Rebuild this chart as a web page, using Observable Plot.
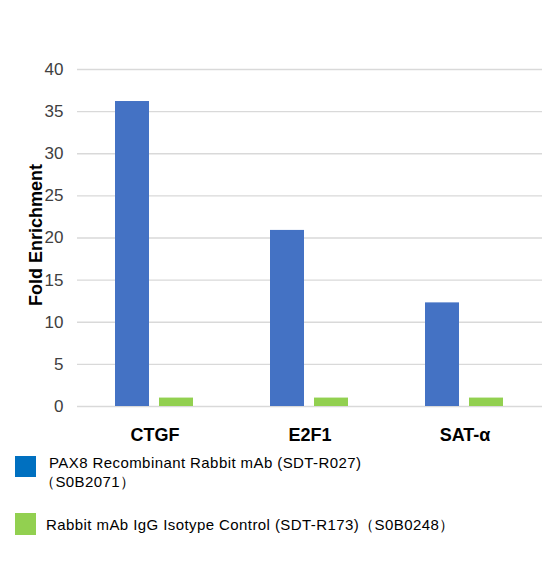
<!DOCTYPE html>
<html>
<head>
<meta charset="utf-8">
<script src="https://cdn.jsdelivr.net/npm/d3@7"></script>
<script src="https://cdn.jsdelivr.net/npm/@observablehq/plot@0.6"></script>
<style>
  body { margin: 0; background: #fff; font-family: "Liberation Sans", Arial, sans-serif; }
  #wrap { position: relative; width: 554px; height: 565px; }
  .sw { position: absolute; width: 21px; height: 21px; }
  .lt { position: absolute; font-size: 15px; line-height: 19px; color: #000; white-space: nowrap; letter-spacing: 0.42px; }
  #ylabel { position: absolute; left: 35.5px; top: 235px; font-size: 18px; line-height: 18px; font-weight: bold; color: #000;
            white-space: nowrap; transform: translate(-50%, -50%) rotate(-90deg); }
</style>
</head>
<body>
<div id="wrap">
  <div id="chart"></div>
  <div id="ylabel">Fold Enrichment</div>
  <div class="sw" style="left:15px; top:456px; background:#0070C0;"></div>
  <div class="lt" style="left:49px; top:453px;">PAX8 Recombinant Rabbit mAb (SDT-R027)</div>
  <div class="lt" style="left:40px; top:472px;">（S0B2071）</div>
  <div class="sw" style="left:15px; top:513px; height:22px; background:#92D050;"></div>
  <div class="lt" style="left:46px; top:515px;">Rabbit mAb IgG Isotype Control (SDT-R173)（S0B0248）</div>
</div>
<script>
const categories = ["CTGF", "E2F1", "SAT-α"];
const seriesNames = ["PAX8 Recombinant Rabbit mAb (SDT-R027)", "Rabbit mAb IgG Isotype Control (SDT-R173)"];
const pax8Values = [36.2, 20.9, 12.3];
const iggValues = [1.0, 1.0, 1.0];
const yTicks = [0, 5, 10, 15, 20, 25, 30, 35, 40];
const seriesColors = ["#4472C4", "#92D050"];

const data = [];
categories.forEach((c, i) => {
  data.push({category: c, series: seriesNames[0], value: pax8Values[i]});
  data.push({category: c, series: seriesNames[1], value: iggValues[i]});
});

const chart = Plot.plot({
  width: 554,
  height: 450,
  marginTop: 69,
  marginBottom: 44,
  marginLeft: 76,
  marginRight: 11,
  style: {fontFamily: "'Liberation Sans', Arial, sans-serif", background: "#fff"},
  fx: {domain: categories, padding: 0, label: null, axis: null},
  x: {domain: seriesNames, axis: null, paddingInner: 0.222, paddingOuter: 0.84},
  y: {domain: [0, 40], axis: null},
  color: {domain: seriesNames, range: seriesColors},
  marks: [
    Plot.gridY(yTicks, {stroke: "#d9d9d9", strokeOpacity: 1, strokeWidth: 1.3}),
    Plot.barY(data, {fx: "category", x: "series", y: "value", fill: "series"}),
    Plot.axisY({ticks: yTicks, tickSize: 0, tickPadding: 14, fontSize: 17, fill: "#404040", label: null, style: {letterSpacing: "0.8px"}}),
    Plot.axisFx({anchor: "bottom", tickSize: 0, tickPadding: 22, fontSize: 18, fontWeight: "bold", fill: "#000", label: null})
  ]
});
document.getElementById("chart").appendChild(chart);
</script>
</body>
</html>
